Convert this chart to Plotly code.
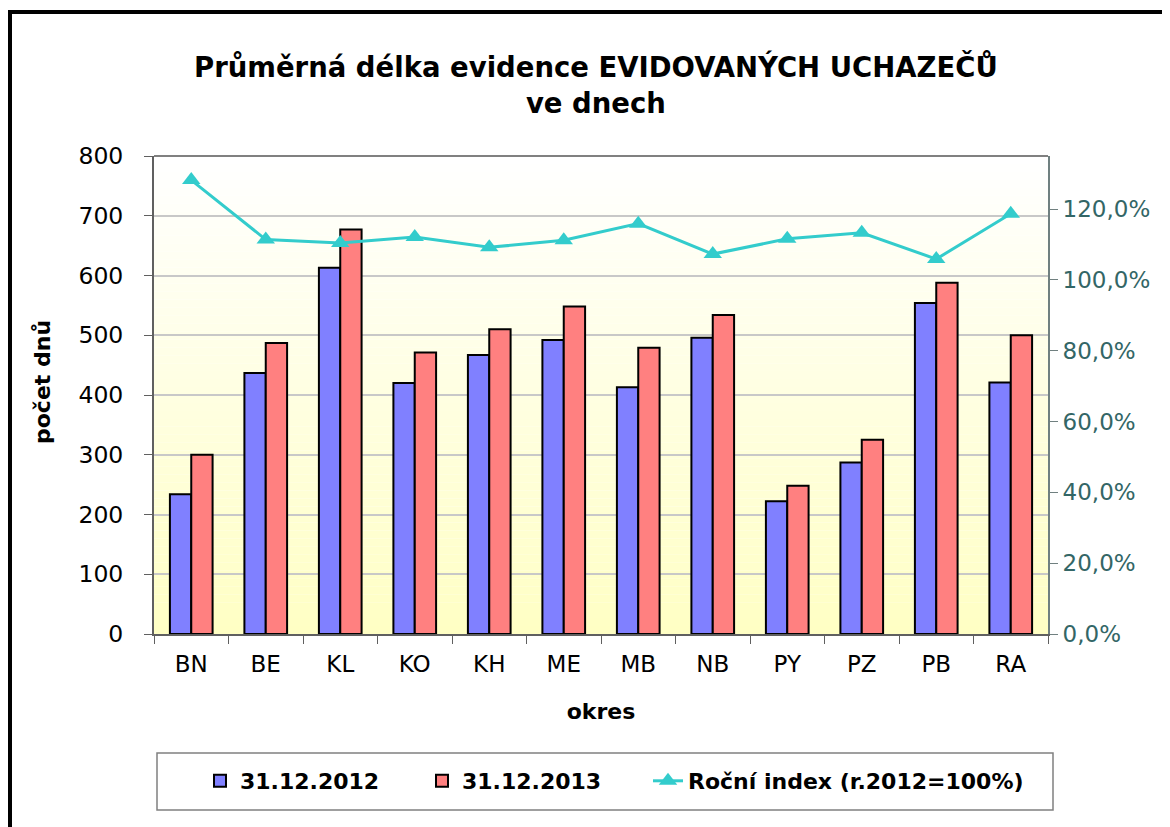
import plotly.graph_objects as go

categories = ["BN", "BE", "KL", "KO", "KH", "ME", "MB", "NB", "PY", "PZ", "PB", "RA"]
values_2012 = [234, 437, 613, 420, 467, 492, 413, 496, 222, 287, 554, 421]
values_2013 = [300, 487, 677, 471, 510, 548, 479, 534, 248, 325, 588, 500]
index_pct = [1.282, 1.114, 1.104, 1.121, 1.092, 1.112, 1.159, 1.073, 1.116, 1.133, 1.059, 1.187]

FONT = "DejaVu Sans, Arial, sans-serif"
W, H = 1170, 827
OFF = 8  # page body margin
L, R, T, B = 154, 1048, 156, 634  # plot area in page pixels

def px_x(x):
    return (x - L) / (R - L)

def px_y(y):
    return (B - y) / (B - T)

fig = go.Figure()
fig.add_trace(go.Bar(
    x=categories, y=values_2012, name="31.12.2012", legend="legend",
    marker=dict(color="#8080FF", line=dict(color="#000000", width=2)),
))
fig.add_trace(go.Bar(
    x=categories, y=values_2013, name="31.12.2013", legend="legend2",
    marker=dict(color="#FF8080", line=dict(color="#000000", width=2)),
))
fig.add_trace(go.Scatter(
    x=categories, y=index_pct, name="Roční index (r.2012=100%)", yaxis="y2",
    legend="legend3", mode="lines+markers",
    line=dict(color="#33CCCC", width=3),
    marker=dict(symbol="triangle-up", size=16, color="#33CCCC"),
))

shapes = []
n = 60
top = (255, 255, 255)
bot = (255, 255, 196)
for i in range(n):
    f = (i + 0.5) / n
    c = tuple(round(top[k] + (bot[k] - top[k]) * f) for k in range(3))
    shapes.append(dict(type="rect", xref="paper", yref="paper",
                       x0=0, x1=1, y0=1 - (i + 1) / n, y1=1 - i / n,
                       fillcolor="rgb(%d,%d,%d)" % c, line=dict(width=0), layer="below"))
shapes.append(dict(type="line", xref="paper", yref="paper", x0=0, x1=1, y0=1, y1=1,
                   line=dict(color="#808080", width=2)))
shapes.append(dict(type="rect", xref="paper", yref="paper",
                   x0=px_x(10), x1=px_x(1167), y0=px_y(12), y1=px_y(900),
                   line=dict(color="#000000", width=4), fillcolor="rgba(0,0,0,0)"))
shapes.append(dict(type="rect", xref="paper", yref="paper",
                   x0=px_x(157), x1=px_x(1053), y0=px_y(753), y1=px_y(810),
                   line=dict(color="#808080", width=1.5), fillcolor="rgba(0,0,0,0)"))

def leg(xpix):
    return dict(orientation="h", x=px_x(xpix), xanchor="left",
                y=px_y(781), yanchor="middle",
                font=dict(family=FONT, size=22, color="#000000", weight="bold"),
                bgcolor="rgba(0,0,0,0)", borderwidth=0)

fig.update_layout(
    width=W, height=H,
    margin=dict(l=L - OFF, r=W - R + OFF, t=T - OFF, b=H - B + OFF, pad=0),
    paper_bgcolor="#FFFFFF",
    plot_bgcolor="rgba(0,0,0,0)",
    separators=", ",
    barmode="group",
    bargap=0.427,
    bargroupgap=0,
    font=dict(family=FONT, size=22, color="#000000"),
    shapes=shapes,
    showlegend=True,
    legend=leg(200),
    legend2=leg(422),
    legend3=leg(648),
    annotations=[
        dict(text="<b>Průměrná délka evidence EVIDOVANÝCH UCHAZEČŮ<br>ve dnech</b>",
             xref="paper", yref="paper", x=px_x(596), y=px_y(84),
             xanchor="center", yanchor="middle", showarrow=False,
             font=dict(family=FONT, size=27.5, color="#000000")),
        dict(text="<b>počet dnů</b>", textangle=-90,
             xref="paper", yref="paper", x=px_x(42), y=px_y(382),
             xanchor="center", yanchor="middle", showarrow=False,
             font=dict(family=FONT, size=22, color="#000000")),
    ],
    xaxis=dict(
        type="category", range=[-0.5, len(categories) - 0.5],
        tickson="boundaries", ticks="outside", ticklen=8,
        tickcolor="#606060", showline=True, linecolor="#606060", linewidth=2,
        tickfont=dict(family=FONT, size=23, color="#000000"),
        ticklabelstandoff=8,
        title=dict(text="<b>okres</b>", font=dict(family=FONT, size=22, color="#000000"),
                   standoff=28),
        showgrid=False,
    ),
    yaxis=dict(
        range=[0, 800], dtick=100, ticks="outside", ticklen=8,
        tickcolor="#606060", showline=True, linecolor="#606060", linewidth=2,
        gridcolor="#C8C8C8", gridwidth=1.5, zeroline=False,
        tickfont=dict(family=FONT, size=23.5, color="#000000"),
        ticklabelstandoff=16,
    ),
    yaxis2=dict(
        overlaying="y", side="right", range=[0, 1.35], dtick=0.2,
        tickformat=".1%", ticks="outside", ticklen=8, tickcolor="#708080",
        showline=True, linecolor="#708080", linewidth=2, showgrid=False, zeroline=False,
        tickfont=dict(family=FONT, size=23, color="#336666"),
        ticklabelstandoff=0,
    ),
)

fig.write_html("out.html")
